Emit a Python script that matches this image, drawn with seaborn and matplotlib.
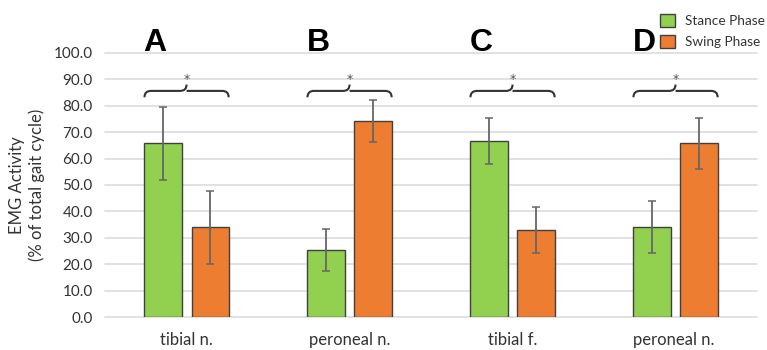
import matplotlib
matplotlib.use("Agg")
import matplotlib.pyplot as plt
from matplotlib.patches import Patch, PathPatch
from matplotlib.path import Path
import pandas as pd
import seaborn as sns

# values
nerves = ["tibial n.", "peroneal n.", "tibial f.", "peroneal n. "]
panel_letters = ["A", "B", "C", "D"]
stance = [65.7, 25.4, 66.6, 34.0]
swing = [34.0, 74.3, 33.0, 65.7]
stance_err = [13.7, 8.0, 8.6, 9.9]
swing_err = [13.8, 8.0, 8.6, 9.8]
phases = ["Stance Phase", "Swing Phase"]
colors = ["#92D050", "#ED7D31"]

df = pd.DataFrame({
    "nerve": nerves * 2,
    "phase": [phases[0]] * 4 + [phases[1]] * 4,
    "value": stance + swing,
})

sns.set_style("white")
plt.rcParams["font.family"] = ["Lato", "DejaVu Sans"]

fig = plt.figure(figsize=(7.67, 3.5), dpi=100)
ax = fig.add_axes([0.137, 0.094, 0.850, 0.755])

sns.barplot(data=df, x="nerve", y="value", hue="phase", order=nerves,
            hue_order=phases, palette=colors, width=0.577, gap=0.21,
            edgecolor="#404040", linewidth=1.0, errorbar=None,
            legend=False, saturation=1, ax=ax)

# error bars on top of the bars
for cont, errs in zip(ax.containers, [stance_err, swing_err]):
    xs = [p.get_x() + p.get_width() / 2 for p in cont]
    ys = [p.get_height() for p in cont]
    ax.errorbar(xs, ys, yerr=errs, fmt="none", ecolor="#666666",
                elinewidth=1.3, capsize=3, capthick=1.1, zorder=5)


def brace(ax, x0, x1, y, h=2.4, r=0.04):
    xm = (x0 + x1) / 2
    verts = [
        (x0, y - h), (x0, y), (x0 + r, y),
        (xm - r, y),
        (xm, y), (xm, y + h),
        (xm, y), (xm + r, y),
        (x1 - r, y),
        (x1, y), (x1, y - h),
    ]
    codes = [Path.MOVETO, Path.CURVE3, Path.CURVE3,
             Path.LINETO,
             Path.CURVE3, Path.CURVE3,
             Path.MOVETO, Path.CURVE3,
             Path.LINETO,
             Path.CURVE3, Path.CURVE3]
    ax.add_patch(PathPatch(Path(verts, codes), fill=False,
                           edgecolor="#333333", lw=1.5, clip_on=False))


left_bars = list(ax.containers[0])
right_bars = list(ax.containers[1])
for i, letter in enumerate(panel_letters):
    x0 = left_bars[i].get_x()
    x1 = right_bars[i].get_x() + right_bars[i].get_width()
    brace(ax, x0, x1, 85.6)
    ax.text((x0 + x1) / 2, 90.0, "*", ha="center", va="center",
            fontsize=9, color="#555555", family="DejaVu Sans")
    ax.text(x0 - 0.005, 100.8, letter, ha="left", va="baseline",
            fontsize=23, fontweight="bold", family="Liberation Sans",
            color="black", clip_on=False)

ax.set_xlim(-0.5, 3.5)
ax.set_ylim(0, 100)
ax.set_yticks(range(0, 101, 10))
ax.set_yticklabels([f"{v:.1f}" for v in range(0, 101, 10)])
ax.yaxis.grid(True, color="#D9D9D9", lw=1.1, clip_on=False)
ax.set_axisbelow(True)
for s in ax.spines.values():
    s.set_visible(False)
ax.tick_params(axis="both", length=0, labelsize=11, colors="#333333")
ax.tick_params(axis="y", pad=9)
ax.tick_params(axis="x", pad=11, labelsize=12)
ax.set_xlabel("")
ax.set_ylabel("EMG Activity\n(% of total gait cycle)", fontsize=12,
              color="#333333", labelpad=6, linespacing=1.25)

handles = [Patch(facecolor=c, edgecolor="#404040", lw=1.0) for c in colors]
fig.legend(handles, phases, loc="upper left",
           bbox_to_anchor=(660 / 767, 1 - 14 / 350), frameon=False,
           fontsize=9.8, borderpad=0, borderaxespad=0,
           handlelength=1.1, handleheight=1.05, handletextpad=0.75,
           labelspacing=0.6, labelcolor="#333333")

fig.savefig("out.png", dpi=100)
